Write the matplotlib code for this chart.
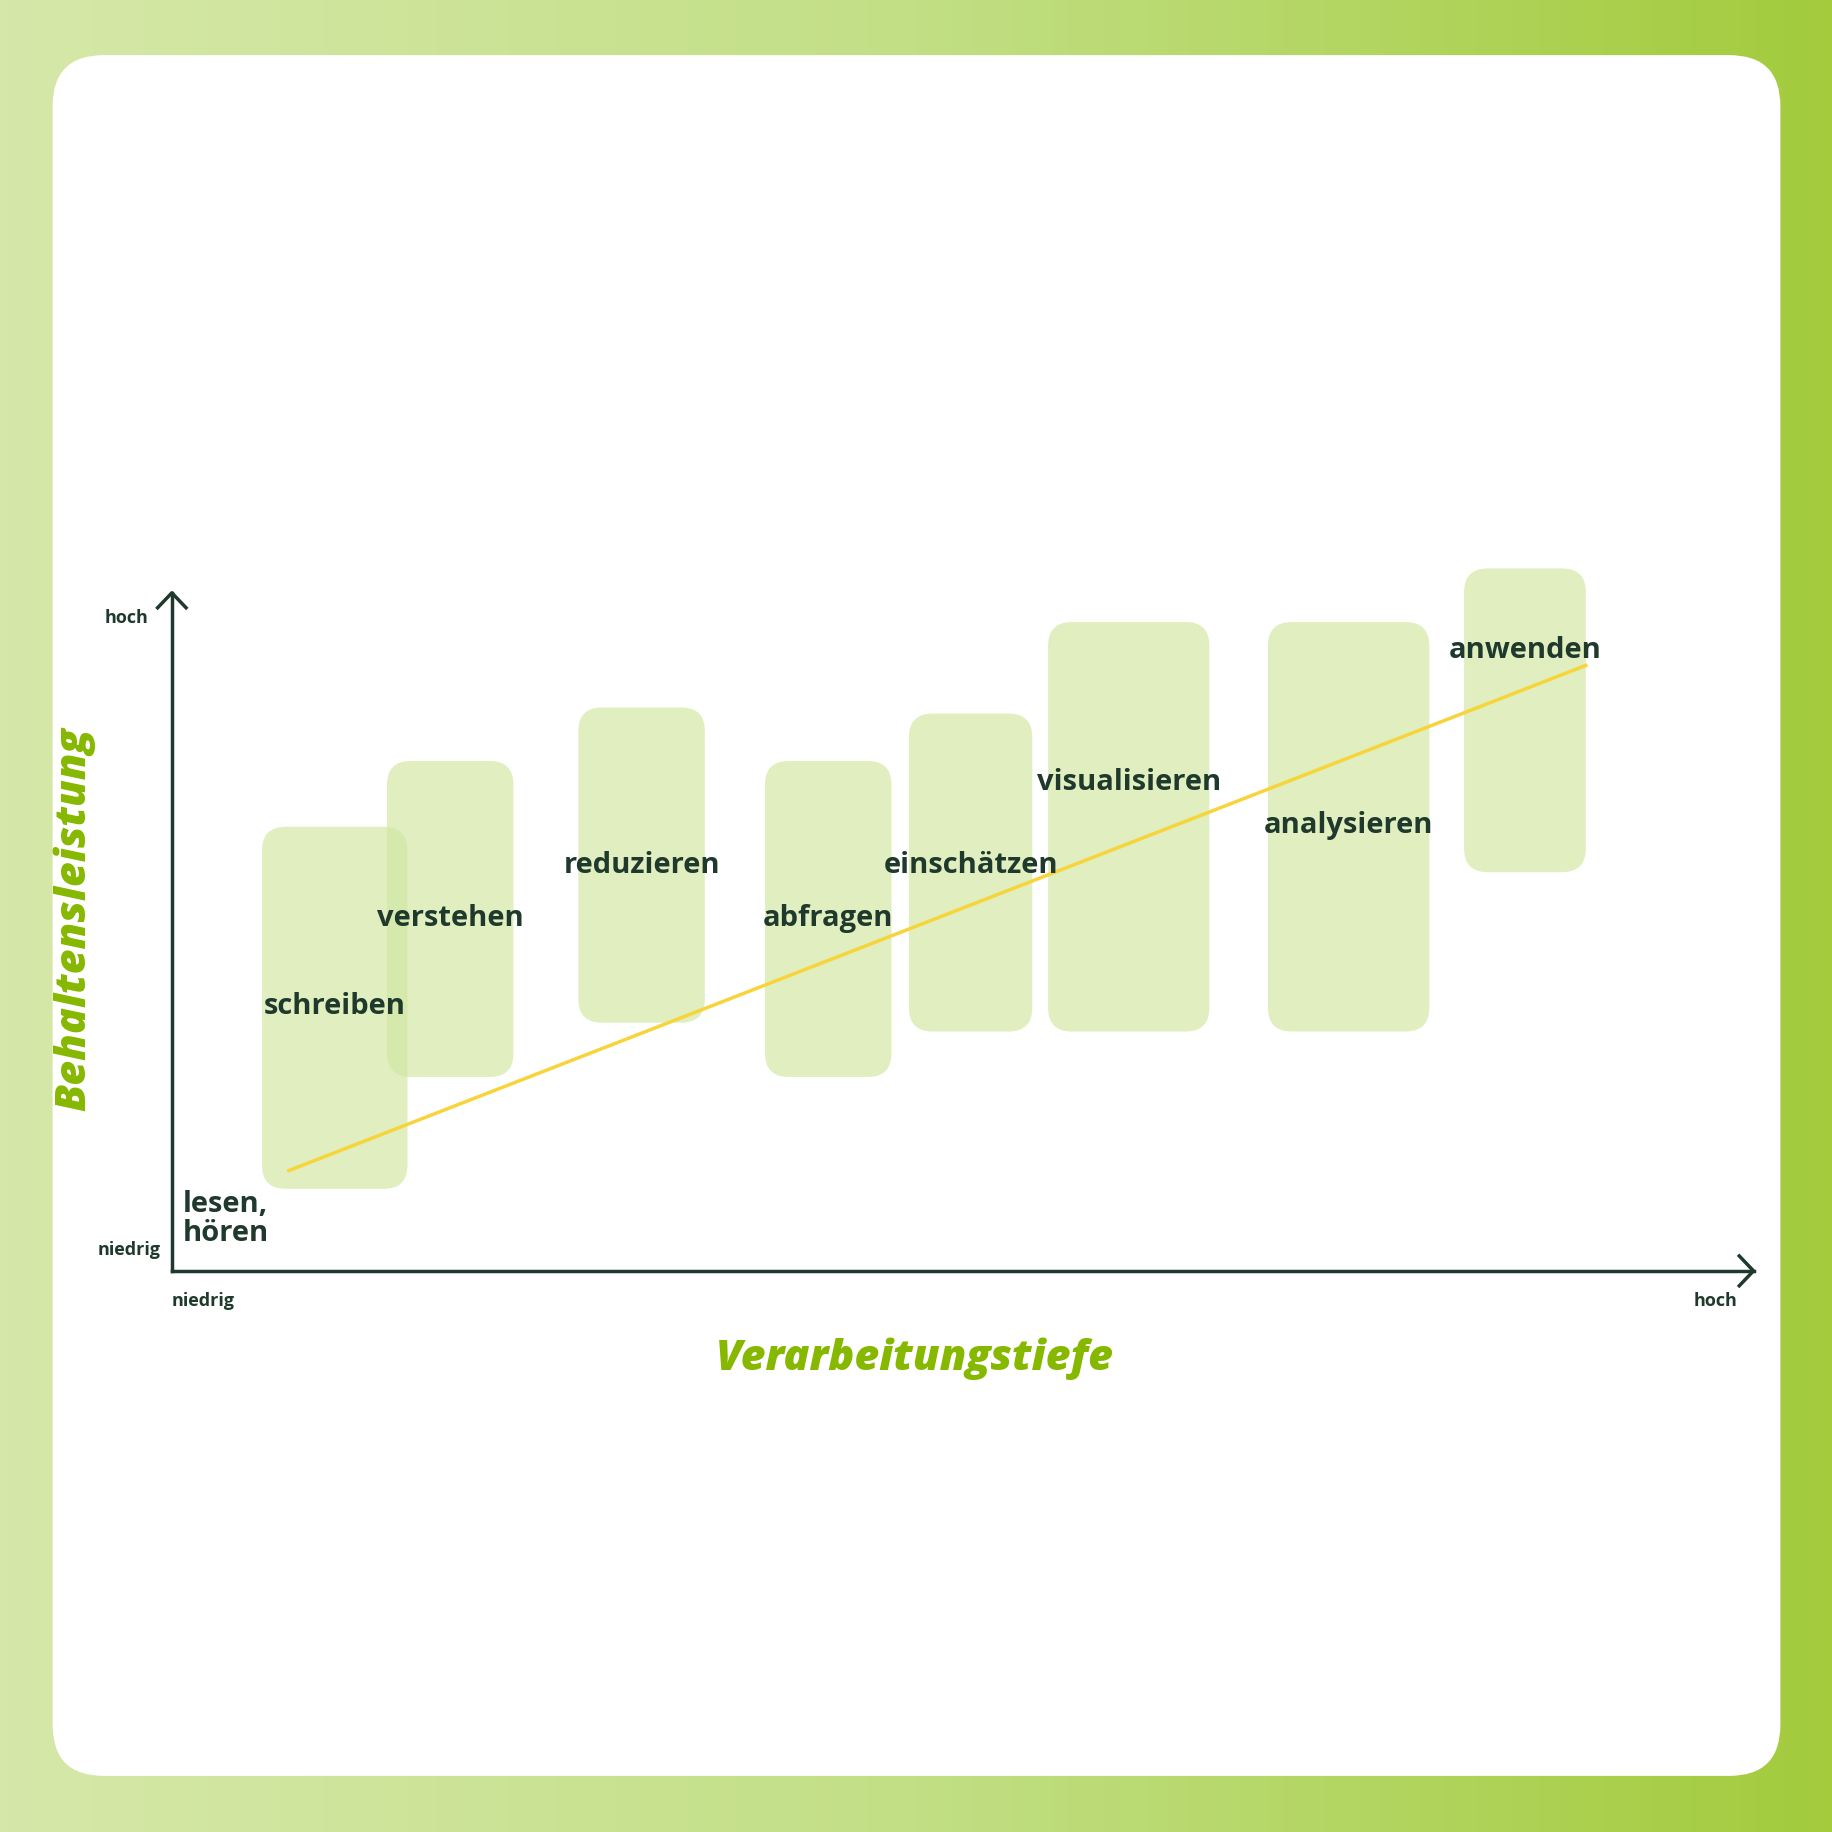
import numpy as np
import matplotlib
matplotlib.use("Agg")
import matplotlib.pyplot as plt
from matplotlib.patches import FancyBboxPatch
from matplotlib.colors import LinearSegmentedColormap

labels = ["schreiben", "verstehen", "reduzieren", "abfragen", "einschätzen",
          "visualisieren", "analysieren", "anwenden"]
x_left = [5.7, 13.6, 25.7, 37.5, 46.6, 55.4, 69.3, 81.7]
x_right = [14.9, 21.6, 33.7, 45.5, 54.4, 65.6, 79.5, 89.4]
y_bottom = [12.1, 28.6, 36.6, 28.6, 35.3, 35.3, 35.3, 58.8]
y_top = [65.5, 75.2, 83.1, 75.2, 82.2, 95.7, 95.7, 103.6]
label_y = [39.1, 52.1, 60.0, 52.1, 60.0, 72.2, 65.9, 91.6]
trend_x = [7.4, 89.4]
trend_y = [14.8, 89.3]

FONT = "Open Sans"
DARK = "#1f3a2c"
GREEN = "#86b800"

fig = plt.figure(figsize=(18.33, 18.33), dpi=100)
bg = fig.add_axes([0, 0, 1, 1])
cmap = LinearSegmentedColormap.from_list("g", ["#d6e8a9", "#c2df85", "#a3cb3c"])
bg.imshow(np.linspace(0, 1, 256)[None, :], aspect="auto", cmap=cmap, extent=[0, 1, 0, 1])
bg.add_patch(FancyBboxPatch((45/1568, 48/1568), (1523-45)/1568, (1520-48)/1568,
                            boxstyle="round,pad=0,rounding_size=0.028",
                            fc="white", ec="none", transform=bg.transAxes))
bg.set_xlim(0, 1); bg.set_ylim(0, 1); bg.axis("off")

ax = fig.add_axes([147/1568, 1 - 1088/1568, 1353/1568, 580/1568])
ax.set_xlim(0, 100); ax.set_ylim(0, 100)
ax.patch.set_alpha(0)
for s in ["top", "right"]:
    ax.spines[s].set_visible(False)
for s in ["left", "bottom"]:
    ax.spines[s].set_color(DARK); ax.spines[s].set_linewidth(2.5)
ax.set_xticks([]); ax.set_yticks([])

asp = (1353/100) / (580/100)
for l, r, b, t in zip(x_left, x_right, y_bottom, y_top):
    ax.add_patch(FancyBboxPatch((l, b), r - l, t - b,
                                boxstyle="round,pad=0,rounding_size=1.5",
                                mutation_aspect=asp, fc="#d3e8a6", ec="none",
                                alpha=0.7, clip_on=False, zorder=1))
ax.plot(trend_x, trend_y, color="#f7d53a", lw=2.5, zorder=2)
for lab, l, r, y in zip(labels, x_left, x_right, label_y):
    ax.text((l + r) / 2, y, lab, ha="center", va="center", fontsize=21,
            fontweight="bold", color=DARK, family=FONT, zorder=3)
ax.text(0.7, 3.5, "lesen,\nhören", ha="left", va="bottom", fontsize=21,
        fontweight="bold", color=DARK, family=FONT, linespacing=1.0)

# arrow heads
ax.plot([-0.9, 0, 0.9], [97.8, 100, 97.8], color=DARK, lw=2.5, clip_on=False)
ax.plot([99.1, 100, 99.1], [2.2, 0, -2.2], color=DARK, lw=2.5, clip_on=False)

kw = dict(fontsize=13, fontweight="bold", color=DARK, family=FONT)
ax.text(-1.5, 96.5, "hoch", ha="right", va="center", **kw)
ax.text(-0.7, 3.2, "niedrig", ha="right", va="center", **kw)
ax.text(0, -4.3, "niedrig", ha="left", va="center", **kw)
ax.text(99, -4.3, "hoch", ha="right", va="center", **kw)

ax.text(47, -12.8, "Verarbeitungstiefe", ha="center", va="center", fontsize=31,
        fontweight="heavy", color=GREEN, family=FONT, style="italic")
ax.text(-6.2, 52, "Behaltensleistung", ha="center", va="center", fontsize=31,
        fontweight="heavy", color=GREEN, family=FONT, rotation=90, style="italic")

fig.savefig("out.png", dpi=100)
